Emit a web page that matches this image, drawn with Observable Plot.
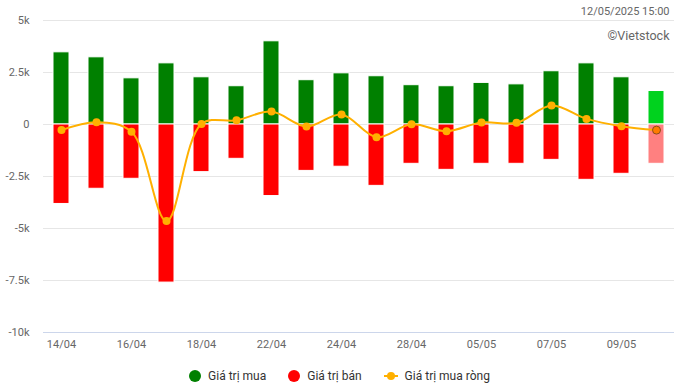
<!DOCTYPE html>
<html><head><meta charset="utf-8">
<script src="https://cdn.jsdelivr.net/npm/d3@7"></script>
<script src="https://cdn.jsdelivr.net/npm/@observablehq/plot@0.6"></script>
<style>
body{margin:0;background:#fff;font-family:Roboto,sans-serif;}
#chart svg{display:block;}
#legend{display:flex;justify-content:center;align-items:center;height:28px;font-size:12px;color:#333;font-family:Roboto,sans-serif;}
.item{display:flex;align-items:center;margin:0 11px;}
.item svg{display:block;margin-right:7px;}
</style></head><body><div id="chart"></div><div id="legend"></div>
<script>
const dates = ["14/04","15/04","16/04","17/04","18/04","21/04","22/04","23/04","24/04","25/04","28/04","29/04","05/05","06/05","07/05","08/05","09/05","12/05"];
const buy  = [3470, 3230, 2220, 2940, 2270, 1840, 4000, 2130, 2460, 2320, 1890, 1840, 2000, 1930, 2560, 2940, 2270, 1610];
const sell = [-3820, -3090, -2610, -7600, -2290, -1650, -3440, -2230, -2030, -2950, -1890, -2180, -1890, -1890, -1700, -2660, -2370, -1890];
const net  = [-270, 110, -350, -4640, 30, 200, 620, -100, 480, -610, 10, -320, 100, 80, 910, 270, -80, -270];
const yTicks = [5000, 2500, 0, -2500, -5000, -7500, -10000];
const xTickLabels = dates.filter((d, i) => i % 2 === 0);
const seriesNames = ["Giá trị mua", "Giá trị bán", "Giá trị mua ròng"];
const stampText = "12/05/2025 15:00";
const creditText = "©Vietstock";

const lastIdx = dates.length - 1;
const rows = dates.map((d, i) => ({date: d, buy: buy[i], sell: sell[i], net: net[i], last: i === lastIdx}));

const chart = Plot.plot({
  width: 679, height: 362,
  marginLeft: 43, marginRight: 5, marginTop: 20, marginBottom: 30,
  style: {fontFamily: "Roboto, sans-serif", fontSize: "11px", color: "#666", background: "#fff", overflow: "visible"},
  x: {type: "band", domain: dates, paddingInner: 0.53, paddingOuter: 0.265, align: 0.5, label: null},
  y: {domain: [-10000, 5000], label: null},
  marks: [
    Plot.gridY(yTicks, {stroke: "#e6e6e6", strokeOpacity: 1}),
    Plot.ruleY([-10000], {stroke: "#ccd6eb"}),
    Plot.barY(rows, {x: "date", y: "buy", fill: d => d.last ? "#00d21e" : "#008000", stroke: "#fff", strokeWidth: 1}),
    Plot.barY(rows, {x: "date", y: "sell", fill: d => d.last ? "#ff8080" : "#ff0000", stroke: "#fff", strokeWidth: 1}),
    Plot.line(rows, {x: "date", y: "net", stroke: "#ffb000", strokeWidth: 2, curve: "catmull-rom"}),
    Plot.dot(rows.filter(d => !d.last), {x: "date", y: "net", r: 4, fill: "#ffb000"}),
    Plot.dot(rows.filter(d => d.last), {x: "date", y: "net", r: 4, fill: "#ff7b00", stroke: "#8b4a1c", strokeWidth: 1}),
    Plot.axisY(yTicks, {tickSize: 0, tickPadding: 14, tickFormat: d => d === 0 ? "0" : (d / 1000) + "k", fill: "#666", fontSize: 11}),
    Plot.axisX(xTickLabels, {tickSize: 0, tickPadding: 8, fill: "#666", fontSize: 11, label: null}),
    Plot.text([stampText], {frameAnchor: "top-right", lineAnchor: "middle", dx: -5, dy: -9, fill: "#666", fontSize: 11}),
    Plot.text([creditText], {frameAnchor: "top-right", lineAnchor: "middle", dx: -5, dy: 15, fill: "#666", fontSize: 12.5})
  ]
});
document.getElementById("chart").appendChild(chart);

const legend = document.getElementById("legend");
const symbols = [
  '<svg width="12" height="12"><circle cx="6" cy="6" r="6" fill="#008000"/></svg>',
  '<svg width="12" height="12"><circle cx="6" cy="6" r="6" fill="#ff0000"/></svg>',
  '<svg width="14" height="12"><line x1="0" y1="6" x2="14" y2="6" stroke="#ffb000" stroke-width="2"/><circle cx="7" cy="6" r="4" fill="#ffb000"/></svg>'
];
seriesNames.forEach((n, i) => {
  const el = document.createElement("div");
  el.className = "item";
  el.innerHTML = symbols[i] + "<span>" + n + "</span>";
  legend.appendChild(el);
});
</script>
</body></html>
